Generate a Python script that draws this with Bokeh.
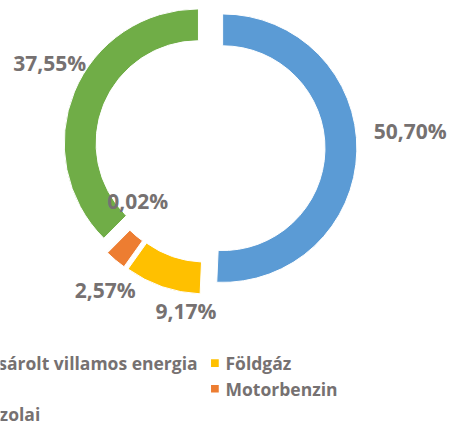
import math
from bokeh.plotting import figure
from bokeh.models import Range1d, ColumnDataSource
from bokeh.core.properties import value
from bokeh.embed import file_html
from bokeh.resources import INLINE

# ---- data ----
categories = ["Vásárolt villamos energia", "Földgáz", "Motorbenzin", "Egyéb", "Gázolaj"]
shares = [50.70, 9.17, 2.57, 0.02, 37.55]
share_labels = ["50,70%", "9,17%", "2,57%", "0,02%", "37,55%"]
colors = ["#5B9BD5", "#FFC000", "#ED7D31", "#A5A5A5", "#70AD47"]

# legend entries shown (grid: column, row)
legend_names = ["Vásárolt villamos energia", "Földgáz", "Motorbenzin", "Gázolaj"]
legend_colors = ["#5B9BD5", "#FFC000", "#ED7D31", "#70AD47"]
legend_cells = [(0, 0), (1, 0), (1, 1), (0, 2)]

# ---- layout (style) ----
W, H = 451, 421
REF_W, REF_H = 467, 437
cx, cy = 217, REF_H - 153
R_out, R_in, explode = 139, 106, 13
# label placement: (angle shift from slice middle in degrees, radius from centre)
label_polar = [(6.0, 208), (10.6, 171), (3.7, 183), (-8.8, 93), (-5.5, 188)]
text_color = "#767171"

p = figure(width=W, height=H, output_backend="svg", toolbar_location=None,
           x_range=Range1d(0, REF_W), y_range=Range1d(0, REF_H),
           min_border=0, outline_line_color=None)
p.axis.visible = False
p.grid.visible = False
p.background_fill_color = "white"
p.border_fill_color = "white"

total = sum(shares)
xs, ys, starts, ends, mids = [], [], [], [], []
cum = 0.0
for s in shares:
    a0 = 90 - (cum + s) / total * 360
    a1 = 90 - cum / total * 360
    m = (a0 + a1) / 2
    cum += s
    xs.append(cx + explode * math.cos(math.radians(m)))
    ys.append(cy + explode * math.sin(math.radians(m)))
    starts.append(math.radians(a0))
    ends.append(math.radians(a1))
    mids.append(m)

src = ColumnDataSource(dict(x=xs, y=ys, start=starts, end=ends, color=colors))
p.annular_wedge(x="x", y="y", inner_radius=R_in, outer_radius=R_out,
                start_angle="start", end_angle="end", fill_color="color",
                line_color="white", line_width=1, source=src)

lx, ly = [], []
for m, (da, rr) in zip(mids, label_polar):
    a = math.radians(m + da)
    lx.append(cx + rr * math.cos(a))
    ly.append(cy + rr * math.sin(a))
p.text(x=lx, y=ly, text=share_labels, text_align="center", text_baseline="middle",
       text_font=value("Open Sans"), text_font_style="bold", text_font_size="21px",
       text_color=text_color)

# legend drawn as glyphs (left column runs off the page like the original)
col_x = [-36, 222]
row_y0, row_step = REF_H - 376.5, 26.5
mx, my, tx = [], [], []
for (c, r) in legend_cells:
    mx.append(col_x[c])
    my.append(row_y0 - r * row_step)
    tx.append(col_x[c] + 11)
p.rect(x=mx, y=my, width=8, height=8, fill_color=legend_colors, line_color=None)
p.text(x=tx, y=my, text=legend_names, text_align="left", text_baseline="middle",
       text_font=value("Open Sans"), text_font_style="bold", text_font_size="17.5px",
       text_color=text_color)

open("out.html", "w").write(file_html(p, INLINE))
